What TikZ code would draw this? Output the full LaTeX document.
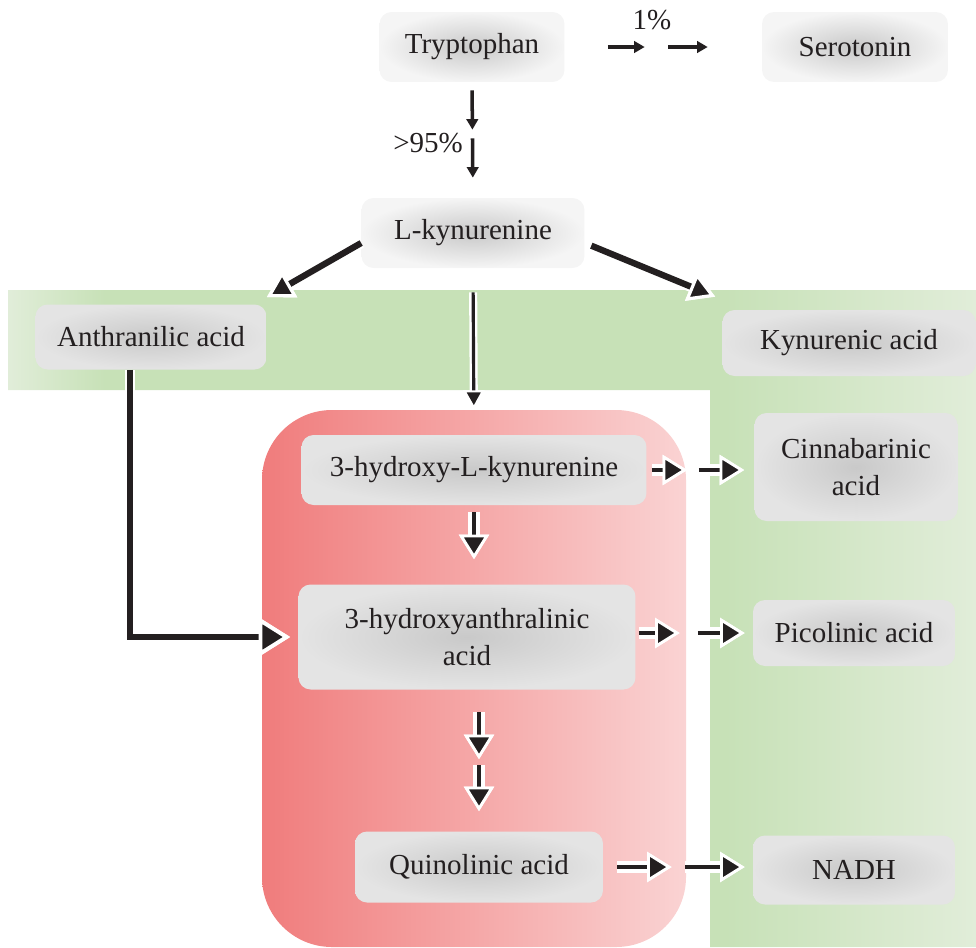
\documentclass[tikz,border=0pt]{standalone}
\usepackage{fontspec}
\setmainfont{Liberation Serif}
\usepackage{tikz}
\usetikzlibrary{arrows.meta, positioning}

\definecolor{boxcore}{HTML}{C9C9C9}
\definecolor{boxrim}{HTML}{E4E4E4}
\definecolor{softrim}{HTML}{F5F5F5}
\definecolor{leafmid}{HTML}{C7E1B7}
\definecolor{leafpale}{HTML}{E1EDD9}
\definecolor{rosedeep}{HTML}{F07C7C}
\definecolor{rosepale}{HTML}{FAD3D3}
\definecolor{arrowink}{HTML}{231F20}

\pgfdeclarehorizontalshading{leafband}{100bp}{color(0bp)=(leafpale); color(25bp)=(leafpale); color(30bp)=(leafmid); color(62bp)=(leafmid); color(75bp)=(leafpale); color(100bp)=(leafpale)}

\tikzset{
  metabox/.style={shade, inner color=boxcore, outer color=boxrim, rounded corners=0.24cm,
    align=center, inner sep=0pt, text=arrowink, font=\fontsize{16.5}{21.5}\selectfont},
  softbox/.style={metabox, outer color=softrim},
  pct/.style={text=arrowink, font=\fontsize{16.5}{20}\selectfont},
  plainflow/.style={draw=arrowink, line width=2.6pt, -{Triangle[length=6pt, width=6.5pt]}},
  flow/.style={draw=arrowink, line width=2.8pt,
    -{Triangle[length=14pt, width=17pt, color=white, fill=arrowink, line width=1.6pt]},
    preaction={draw=white, line width=7pt}},
  bigflow/.style={draw=arrowink, line width=3.6pt,
    -{Triangle[length=15pt, width=17pt, color=white, fill=arrowink, line width=1.8pt]},
    preaction={draw=white, line width=6pt}},
  thinflow/.style={draw=arrowink, line width=1.8pt,
    -{Triangle[length=11pt, width=12pt, color=white, fill=arrowink, line width=1.2pt]},
    preaction={draw=white, line width=4.6pt}}
}

\begin{document}
\begin{tikzpicture}[x=0.02cm, y=-0.02cm]
  \useasboundingbox (0,0) rectangle (976,947);
  % Background areas:
  \shade[shading=leafband] (8,290) -- (976,290) -- (976,947) -- (710,947) -- (710,390) -- (8,390) -- cycle;
  \shade[left color=rosedeep, right color=rosepale, rounded corners=1.4cm] (262,410) rectangle (686,947);

  % Compounds:
  \node[softbox, minimum width=3.7cm, minimum height=1.4cm] (tryp) at (472,47) {Tryptophan};
  \node[softbox, minimum width=3.72cm, minimum height=1.4cm] (sero) at (855,47) {Serotonin};
  \node[softbox, minimum width=4.46cm, minimum height=1.4cm] (lkyn) at (473,233) {L-kynurenine};
  \node[metabox, minimum width=4.62cm, minimum height=1.3cm] (anth) at (151,337) {Anthranilic acid};
  \node[metabox, minimum width=5.06cm, minimum height=1.32cm] (kyna) at (849,343) {Kynurenic acid};
  \node[metabox, minimum width=6.9cm, minimum height=1.4cm] (hk) at (474,470) {3-hydroxy-L-kynurenine};
  \node[metabox, minimum width=4.06cm, minimum height=2.16cm] (cinn) at (856,467) {Cinnabarinic\\acid};
  \node[metabox, minimum width=6.74cm, minimum height=2.1cm] (haa) at (467,637) {3-hydroxyanthralinic\\acid};
  \node[metabox, minimum width=4.04cm, minimum height=1.32cm] (pico) at (854,633) {Picolinic acid};
  \node[metabox, minimum width=4.96cm, minimum height=1.42cm] (quin) at (479,867) {Quinolinic acid};
  \node[metabox, minimum width=4.04cm, minimum height=1.38cm] (nadh) at (854,870) {NADH};
  \node[pct] (onepct) at (652,20) {1\%};
  \node[pct] (mostpct) at (428,143) {>95\%};

  % Arrows:
  \draw[plainflow, shorten <=0.86cm, shorten >=2.34cm] (tryp.east) -- (sero.west);
  \draw[plainflow, shorten <=2.07cm, shorten >=1.08cm] (tryp.east) -- (sero.west);
  \draw[plainflow, line width=2pt, shorten <=0.16cm, shorten >=1.36cm] (tryp.south) -- (lkyn.north);
  \draw[plainflow, line width=2pt, shorten <=1.12cm, shorten >=0.4cm] (tryp.south) -- (lkyn.north);
  \draw[bigflow] ([yshift=-0.2cm]lkyn.west) -- ([yshift=0.14cm]anth.north east);
  \draw[bigflow, shorten <=0.14cm] ([yshift=-0.2cm]lkyn.east) -- ([shift={(-0.14cm,0.26cm)}]kyna.north west);
  \draw[thinflow, shorten <=0.48cm, shorten >=0.5cm] (lkyn.south) -- (hk.north);
  \draw[bigflow, line width=3.2pt, -{Triangle[length=18pt, width=22pt, color=white, fill=arrowink, line width=2.2pt]}, shorten >=0.16cm] ([xshift=-0.42cm]anth.south) |- (haa.west);
  \draw[flow, shorten <=0.1cm, shorten >=1.34cm] (hk.east) -- (hk.east -| cinn.west);
  \draw[flow, shorten <=1.04cm, shorten >=0.2cm] (hk.east) -- (hk.east -| cinn.west);
  \draw[flow, shorten <=0.14cm, shorten >=0.5cm] (hk.south) -- (hk.south |- haa.north);
  \draw[flow, shorten <=0.06cm, shorten >=1.46cm] (pico.west -| haa.east) -- (pico.west);
  \draw[flow, shorten <=1.24cm, shorten >=0.16cm] (pico.west -| haa.east) -- (pico.west);
  \draw[flow, shorten <=0.44cm, shorten >=1.44cm] (quin.north |- haa.south) -- (quin.north);
  \draw[flow, shorten <=1.5cm, shorten >=0.4cm] (quin.north |- haa.south) -- (quin.north);
  \draw[flow, shorten <=0.28cm, shorten >=1.62cm] (quin.east) -- (quin.east -| nadh.west);
  \draw[flow, shorten <=1.64cm, shorten >=0.16cm] (quin.east) -- (quin.east -| nadh.west);
\end{tikzpicture}
\end{document}
